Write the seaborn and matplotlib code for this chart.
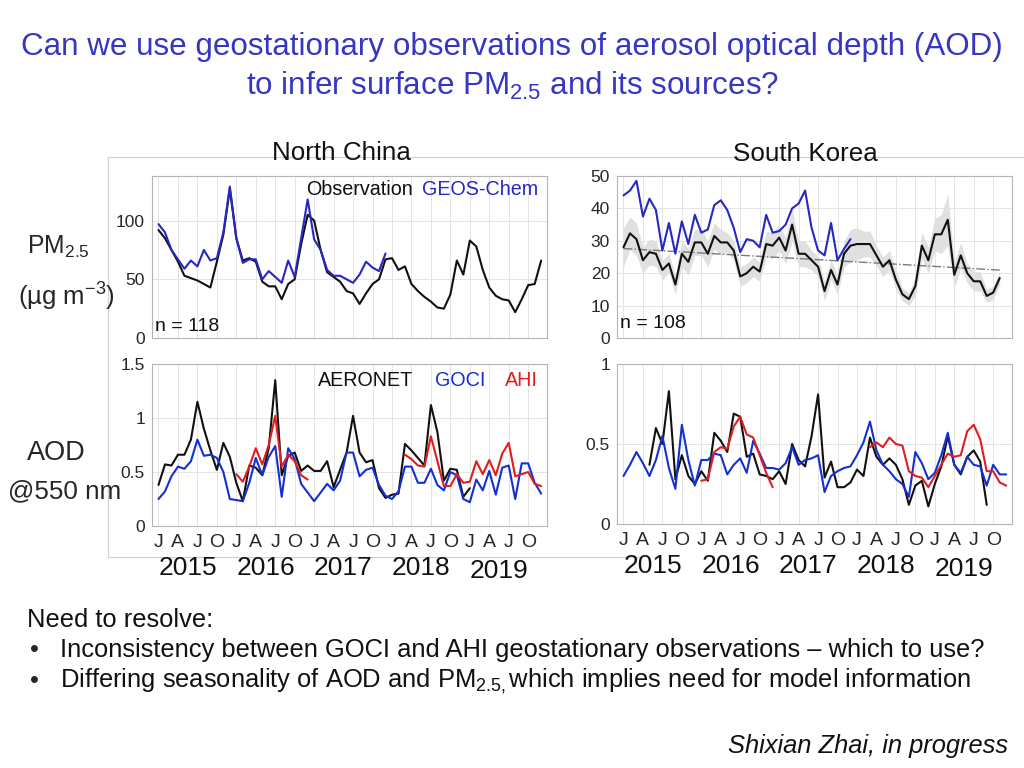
import numpy as np
import pandas as pd
import matplotlib
matplotlib.use("Agg")
import matplotlib.pyplot as plt
import seaborn as sns
from matplotlib.lines import Line2D

# ---------------- data (monthly, Jan 2015 - Dec 2019) ----------------
nc_pm_obs = [92, 85, 75, 65, 53, 51, 49, 46, 43, 65,
             88, 127, 85, 66, 68, 65, 48, 44, 44, 33,
             46, 50, 80, 105, 100, 75, 56, 52, 48, 40,
             38, 29, 38, 46, 50, 67, 68, 58, 61, 46,
             40, 35, 31, 26, 25, 37, 66, 54, 83, 78,
             58, 43, 36, 33, 32, 22, 33, 45, 46, 66]
nc_pm_gc = [97, 90, 75, 67, 59, 66, 61, 75, 66, 68,
            90, 129, 85, 64, 67, 67, 50, 57, 52, 47,
            66, 52, 85, 118, 84, 75, 58, 53, 53, 50,
            47, 54, 65, 60, 57, 72]

sk_pm_obs = [28, 32.3, 30.5, 24, 26.5, 26, 21, 23, 16.5, 26,
             23.5, 29.5, 29.5, 26, 31.5, 29.5, 29.5, 27, 19, 20,
             22, 20.5, 29, 28.5, 31, 27, 35, 26, 26, 24,
             22, 14.5, 21, 16.5, 26, 28.5, 29, 29, 29, 25.5,
             22, 24, 18, 13.5, 12, 16, 28.5, 24, 32, 32,
             36.5, 19.5, 25.5, 20, 17.5, 17.5, 13, 14, 18.5]
sk_pm_spread = [6, 5, 5, 4, 4, 4, 3, 3, 3, 4,
                4, 4, 4, 4, 4, 4, 3, 3, 3, 3,
                3, 3, 4, 4, 4, 4, 5, 4, 4, 3,
                3, 3, 3, 3, 4, 5, 5, 4, 4, 3,
                3, 3, 3, 2, 2, 3, 4, 4, 5, 6,
                8, 4, 4, 3, 3, 3, 2, 2, 2]
sk_pm_gc = [44, 45.5, 48.5, 37.5, 43, 39.5, 27, 35.5, 26, 36,
            29, 38, 32.5, 33.5, 41, 42.5, 39.5, 34, 26.5, 30.5,
            30, 28, 38, 32.5, 33, 35, 40, 41.5, 45.5, 34,
            27, 25.5, 35.5, 24, 27.5, 30.5]

nan = np.nan
nc_aod_aeronet = [.38, .57, .56, .66, .66, .80, 1.15, .90, .70, .52,
                  .77, .64, .40, .23, .56, .54, .47, .72, 1.35, .47,
                  .65, .68, .51, .56, .51, .51, .60, .36, .52, .68,
                  1.02, .68, .59, .61, .35, .26, .29, .30, .76, .70,
                  .63, .56, 1.12, .87, .42, .53, .52, .27, .35]
nc_aod_goci = [.25, .32, .46, .55, .53, .60, .80, .65, .66, .63,
               .50, .25, .24, .23, .40, .63, .47, .64, .74, .27,
               .72, .62, .39, .31, .23, .31, .39, .33, .42, .68,
               .68, .46, .52, .54, .38, .28, .25, .32, .55, .55,
               .40, .40, .53, .38, .33, .50, .47, .25, .22, .43,
               .33, .51, .29, .54, .56, .25, .58, .58, .40, .30]
nc_aod_ahi = ([nan] * 12 +
              [.48, .41, .55, .72, .57, .75, 1.02, .55, .66, .60, .47, .43] +
              [nan] * 14 +
              [.66, .62, .56, .55, .83, .60, .37, .37, .48, .40, .41,
               .60, .48, .61, .47, .67, .77, .46, .48, .50, .39, .37])

sk_aod_aeronet = ([nan] * 4 +
                  [.37, .60, .50, .83, .28, .43, .30, .25, .33, .27,
                   .57, .52, .45, .69, .67, .42, .44, .31, .30, .28,
                   .33, .25, .50, .40, .36, .55, .81, .29, .39, .23,
                   .23, .26, .34, .30, .54, .42, .37, .41, .37, .28,
                   .12, .24, .27, .11, .25, .36, .55, .37, .31, .42,
                   .46, .39, .12])
sk_aod_goci = [.30, .37, .45, .38, .30, .40, .55, .35, .22, .62,
               .40, .24, .40, .40, .44, .43, .31, .37, .41, .32,
               .52, .44, .35, .35, .34, .38, .48, .37, .40, .41,
               .43, .20, .30, .33, .35, .36, .43, .51, .64, .46,
               .37, .33, .28, .25, .17, .45, .38, .28, .32, .43,
               .57, .37, .32, .42, .37, .36, .24, .37, .31, .31]
sk_aod_ahi = ([nan] * 12 +
              [.27, .28, .45, .48, .47, .61, .67, .56, .54, .43, .32, .23] +
              [nan] * 14 +
              [.48, .51, .48, .54, .50, .49, .33, .30, .29, .23, .30,
               .37, .44, .42, .43, .58, .62, .53, .33, .33, .26, .24])

month_labels = ["J", "A", "J", "O"] * 5
years = ["2015", "2016", "2017", "2018", "2019"]

# ---------------- style ----------------
sns.set_style("white")
plt.rcParams["font.family"] = ["Liberation Sans", "DejaVu Sans"]
plt.rcParams["mathtext.fontset"] = "custom"
plt.rcParams["mathtext.rm"] = "Liberation Sans"
plt.rcParams["mathtext.it"] = "Liberation Sans:italic"

BLACK = "#111111"
BLUE_GC = "#2727c4"
BLUE = "#1530d2"
RED = "#e11d1d"
TITLE_BLUE = "#3636c2"
W, H = 1024, 768

fig = plt.figure(figsize=(W / 100, H / 100), dpi=100)
fig.patch.set_facecolor("white")


def rect(l, t, r, b):
    return [l / W, 1 - b / H, (r - l) / W, (b - t) / H]


def long_df(series):
    frames = []
    for name, vals in series.items():
        v = pd.Series(vals, dtype=float)
        run = v.isna().cumsum()
        d = pd.DataFrame({"month": np.arange(len(v)), "value": v,
                          "series": name, "seg": [f"{name}-{r}" for r in run]})
        frames.append(d.dropna())
    return pd.concat(frames, ignore_index=True)


def style_axes(ax, ylim, yticks, yticklabels, xlabels):
    ax.set_xlim(-1, 59.9)
    ax.set_ylim(*ylim)
    ax.set_yticks(yticks)
    ax.set_yticklabels(yticklabels)
    ax.set_xticks(np.arange(0, 60, 3))
    if xlabels:
        ax.set_xticklabels(month_labels)
    else:
        ax.set_xticklabels([])
    ax.grid(True, color="#e4e4e4", lw=0.7)
    ax.set_axisbelow(True)
    for s in ax.spines.values():
        s.set_color("#b5b5b5")
        s.set_linewidth(0.8)
    ax.tick_params(axis="both", direction="in", length=3, color="#9a9a9a",
                   labelcolor="#262626")
    ax.tick_params(axis="y", labelsize=12.5, pad=5)
    ax.tick_params(axis="x", labelsize=14, pad=6)
    ax.set_xlabel("")
    ax.set_ylabel("")


def draw_lines(ax, series, palette, lw=1.5):
    df = long_df(series)
    sns.lineplot(data=df, x="month", y="value", hue="series", units="seg",
                 estimator=None, palette=palette, legend=False, ax=ax,
                 lw=lw, hue_order=list(series.keys()))


# ---- top left: North China PM2.5
ax1 = fig.add_axes(rect(152, 176, 547, 338))
draw_lines(ax1, {"Observation": nc_pm_obs, "GEOS-Chem": nc_pm_gc},
           {"Observation": BLACK, "GEOS-Chem": BLUE_GC})
style_axes(ax1, (0, 138), [0, 50, 100], ["0", "50", "100"], False)
ax1.text(0.661, 0.915, "Observation", transform=ax1.transAxes, ha="right",
         va="center", fontsize=14.2, color=BLACK)
ax1.text(0.977, 0.915, "GEOS-Chem", transform=ax1.transAxes, ha="right",
         va="center", fontsize=14.2, color=BLUE_GC)
ax1.text(0.008, 0.07, "n = 118", transform=ax1.transAxes, ha="left",
         va="center", fontsize=14, color=BLACK)

# ---- top right: South Korea PM2.5
ax2 = fig.add_axes(rect(617, 176, 1012, 338))
sk_m = np.arange(len(sk_pm_obs))
obs = np.array(sk_pm_obs)
spr = np.array(sk_pm_spread)
ax2.fill_between(sk_m, obs - spr, obs + spr, color="#e0e0e0", lw=0, zorder=1)
coef = np.polyfit(sk_m, obs, 1)
sns.lineplot(x=sk_m, y=np.polyval(coef, sk_m), ax=ax2, color="#7a7a7a",
             lw=1.0, linestyle="-.")
draw_lines(ax2, {"Observation": sk_pm_obs, "GEOS-Chem": sk_pm_gc},
           {"Observation": BLACK, "GEOS-Chem": BLUE_GC})
style_axes(ax2, (0, 50), [0, 10, 20, 30, 40, 50],
           ["0", "10", "20", "30", "40", "50"], False)
ax2.text(0.008, 0.09, "n = 108", transform=ax2.transAxes, ha="left",
         va="center", fontsize=14, color=BLACK)

# ---- bottom left: North China AOD
ax3 = fig.add_axes(rect(152, 364, 547, 526))
draw_lines(ax3, {"AERONET": nc_aod_aeronet, "GOCI": nc_aod_goci, "AHI": nc_aod_ahi},
           {"AERONET": BLACK, "GOCI": BLUE, "AHI": RED})
style_axes(ax3, (0, 1.5), [0, 0.5, 1, 1.5], ["0", "0.5", "1", "1.5"], True)
ax3.text(0.661, 0.90, "AERONET", transform=ax3.transAxes, ha="right",
         va="center", fontsize=14.2, color=BLACK)
ax3.text(0.843, 0.90, "GOCI", transform=ax3.transAxes, ha="right",
         va="center", fontsize=14.2, color=BLUE)
ax3.text(0.977, 0.90, "AHI", transform=ax3.transAxes, ha="right",
         va="center", fontsize=14.2, color=RED)

# ---- bottom right: South Korea AOD
ax4 = fig.add_axes(rect(617, 364, 1012, 524))
draw_lines(ax4, {"AERONET": sk_aod_aeronet, "GOCI": sk_aod_goci, "AHI": sk_aod_ahi},
           {"AERONET": BLACK, "GOCI": BLUE, "AHI": RED})
style_axes(ax4, (0, 1), [0, 0.5, 1], ["0", "0.5", "1"], True)

# year labels under the bottom panels
for ax in (ax3, ax4):
    for i, yr in enumerate(years):
        ax.text(4.5 + 12 * i, -0.26 if i < 4 else -0.28, yr,
                transform=ax.get_xaxis_transform(), ha="center", va="center",
                fontsize=19, color="#111111")

# panel titles
fig.text(341 / W, 1 - 153 / H, "North China", ha="center", va="center",
         fontsize=18.7, color="#111111")
fig.text(805 / W, 1 - 154 / H, "South Korea", ha="center", va="center",
         fontsize=18.7, color="#111111")

# left-side labels
fig.text(58 / W, 1 - 247 / H, r"PM$_\mathregular{2.5}$", ha="center", va="center",
         fontsize=17.8)
fig.text(66 / W, 1 - 297 / H, r"(µg m$^\mathregular{-3}$)", ha="center", va="center",
         fontsize=18.5)
fig.text(56 / W, 1 - 453 / H, "AOD", ha="center", va="center", fontsize=19.5)
fig.text(65 / W, 1 - 491 / H, "@550 nm", ha="center", va="center", fontsize=18.7)

# background frame of pasted figure
for (x0, y0, x1, y1) in [(108, 157, 1024, 157), (108, 157, 108, 557),
                         (108, 557, 640, 557)]:
    fig.add_artist(Line2D([x0 / W, x1 / W], [1 - y0 / H, 1 - y1 / H],
                          transform=fig.transFigure, color="#cfcfcf", lw=0.8,
                          zorder=0))

# slide title
fig.text(512 / W, 1 - 47 / H,
         "Can we use geostationary observations of aerosol optical depth (AOD)",
         ha="center", va="center", fontsize=22.6, color=TITLE_BLUE)
fig.text(512 / W, 1 - 86 / H,
         r"to infer surface PM$_\mathregular{2.5}$ and its sources?",
         ha="center", va="center", fontsize=22.6, color=TITLE_BLUE)

# bottom notes
FS = 18.4
fig.text(27 / W, 1 - 620 / H, "Need to resolve:", ha="left", va="center",
         fontsize=FS, color="#111111")
fig.text(30 / W, 1 - 650 / H, "•", ha="left", va="center", fontsize=FS)
fig.text(60 / W, 1 - 650 / H,
         "Inconsistency between GOCI and AHI geostationary observations – which to use?",
         ha="left", va="center", fontsize=FS, color="#111111")
fig.text(30 / W, 1 - 681 / H, "•", ha="left", va="center", fontsize=FS)
fig.text(60 / W, 1 - 681 / H,
         r"Differing seasonality of AOD and PM$_\mathregular{2.5,}$which implies need for model information",
         ha="left", va="center", fontsize=FS, color="#111111")
fig.text(1008 / W, 1 - 746 / H, "Shixian Zhai, in progress", ha="right",
         va="center", fontsize=FS, style="italic", color="#111111")

fig.savefig("out.png", dpi=100, facecolor="white")
